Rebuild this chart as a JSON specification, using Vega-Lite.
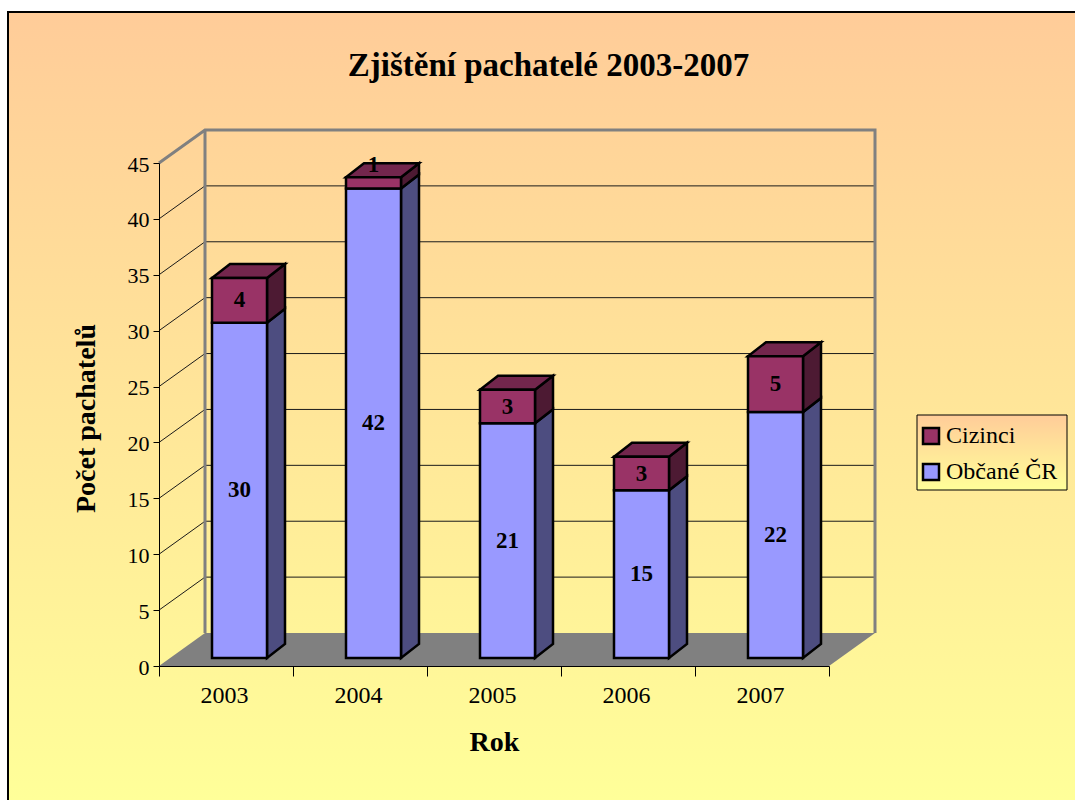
{
"$schema":"https://vega.github.io/schema/vega-lite/v6.json",
"autosize":"none",
"padding":{"left":8,"top":11,"right":0,"bottom":0},
"width":1067,"height":789,
"background":"white",
"view":{"stroke":null},
"title":{"text":"Zjištění pachatelé 2003-2007","font":"Liberation Serif","fontSize":33,"fontWeight":"bold","color":"black","anchor":"middle","frame":"group","dx":7,"offset":-75,"zindex":1},
"datasets":{"pachatele":[
{"rok":"2003","kategorie":"Občané ČR","pocet":30},{"rok":"2003","kategorie":"Cizinci","pocet":4},
{"rok":"2004","kategorie":"Občané ČR","pocet":42},{"rok":"2004","kategorie":"Cizinci","pocet":1},
{"rok":"2005","kategorie":"Občané ČR","pocet":21},{"rok":"2005","kategorie":"Cizinci","pocet":3},
{"rok":"2006","kategorie":"Občané ČR","pocet":15},{"rok":"2006","kategorie":"Cizinci","pocet":3},
{"rok":"2007","kategorie":"Občané ČR","pocet":22},{"rok":"2007","kategorie":"Cizinci","pocet":5}],
"urovne":[{"u":5},{"u":10},{"u":15},{"u":20},{"u":25},{"u":30},{"u":35},{"u":40}],
"vrch":[{"u":45}]},
"layer":[
{"data":{"name":"vrch"},
 "mark":{"type":"point","shape":"M-218,-152L849,-152L849,637L-218,637Z","size":4,"filled":true,"opacity":1,"fill":{"gradient":"linear","x1":0,"y1":0,"x2":0,"y2":1,"stops":[{"offset":0,"color":"#FFCC99"},{"offset":1,"color":"#FFFF99"}]}},
 "encoding":{"x":{"datum":"2003","type":"ordinal","axis":null},"y":{"field":"u","type":"quantitative","axis":null}}},
{"data":{"name":"vrch"},
 "mark":{"type":"point","shape":"M-218,640L-218,-151L860,-151","size":4,"filled":false,"opacity":1,"stroke":"black","strokeWidth":2},
 "encoding":{"x":{"datum":"2003","type":"ordinal","axis":null},"y":{"field":"u","type":"quantitative","axis":null}}},
{"data":{"name":"vrch"},
 "mark":{"type":"point","shape":"M691,252L841,252L841,327L691,327Z","size":4,"filled":true,"opacity":1,"stroke":"black","strokeWidth":1,"fill":{"gradient":"linear","x1":0,"y1":0,"x2":0,"y2":1,"stops":[{"offset":0,"color":"#FFCC99"},{"offset":1,"color":"#FFFF99"}]}},
 "encoding":{"x":{"datum":"2003","type":"ordinal","axis":null},"y":{"field":"u","type":"quantitative","axis":null}}},
{"data":{"values":[{"u":0}]},
 "mark":{"type":"point","shape":"M0,0L670,0L716,-33L46,-33Z","size":4,"filled":true,"fill":"#808080","opacity":1,"xOffset":-67},
 "encoding":{"x":{"datum":"2003","type":"ordinal","axis":null},"y":{"field":"u","type":"quantitative","axis":null}}},
{"data":{"name":"urovne"},
 "mark":{"type":"point","shape":"M0,0L46,-33L716,-33","size":4,"filled":false,"stroke":"#1a1a1a","strokeWidth":1,"opacity":1,"xOffset":-67},
 "encoding":{"x":{"datum":"2003","type":"ordinal","axis":null},"y":{"field":"u","type":"quantitative","axis":null}}},
{"data":{"name":"vrch"},
 "mark":{"type":"point","shape":"M0,0L46,-33L716,-33L716,470M46,-33L46,470","size":4,"filled":false,"stroke":"#808080","strokeWidth":3,"opacity":1,"xOffset":-67},
 "encoding":{"x":{"datum":"2003","type":"ordinal","axis":null},"y":{"field":"u","type":"quantitative","axis":null}}},
{"data":{"name":"pachatele"},
 "transform":[{"stack":"pocet","groupby":["rok"],"sort":[{"field":"kategorie","order":"descending"}],"as":["y0","y1"]}],
 "resolve":{"axis":{"x":"independent","y":"independent"}},
 "layer":[
 {"mark":{"type":"point","shape":{"expr":"'M0,0L18,-14L18,'+(datum.pocet*11.178-14)+'L0,'+(datum.pocet*11.178)+'Z'"},"size":4,"filled":true,"opacity":1,"stroke":"black","strokeWidth":2.5,"xOffset":41,"yOffset":-8,"fill":{"expr":"datum.kategorie==='Cizinci' ? '#4D1A33' : '#4D4D80'"}},
  "encoding":{"x":{"field":"rok","type":"ordinal","axis":null},"y":{"field":"y1","type":"quantitative","axis":null}}},
 {"transform":[{"filter":"datum.kategorie==='Cizinci'"}],
  "mark":{"type":"point","shape":"M0,0L18,-14L73,-14L55,0Z","size":4,"filled":true,"opacity":1,"fill":"#73264D","stroke":"black","strokeWidth":2.5,"xOffset":-14,"yOffset":-8},
  "encoding":{"x":{"field":"rok","type":"ordinal","axis":null},"y":{"field":"y1","type":"quantitative","axis":null}}},
 {"mark":{"type":"bar","size":55,"stroke":"black","strokeWidth":2.5,"xOffset":13.5,"yOffset":-8,"y2Offset":-8},
  "encoding":{
   "x":{"field":"rok","type":"ordinal","scale":{"domain":["2003","2004","2005","2006","2007"],"range":[151,821],"paddingInner":0,"paddingOuter":0},
     "axis":{"zindex":1,"title":"Rok","titleFont":"Liberation Serif","titleFontSize":28,"titleFontWeight":"bold","titleColor":"black","titleX":486,"titleY":62,"titleAnchor":"middle","titleAlign":"center","labelFont":"Liberation Serif","labelFontSize":24,"labelColor":"black","labelAngle":0,"labelPadding":7,"labelOffset":-2,"tickBand":"extent","tickColor":"black","tickSize":10,"domainColor":"black","offset":-134,"grid":false}},
   "y":{"field":"y1","type":"quantitative","scale":{"domain":[0,45],"range":[655,152],"nice":false,"zero":false},
     "axis":{"zindex":1,"title":"Počet pachatelů","titleFont":"Liberation Serif","titleFontSize":28,"titleFontWeight":"bold","titleColor":"black","titleAngle":-90,"titleX":-73,"titleY":407,"titleAlign":"center","titleBaseline":"middle","values":[0,5,10,15,20,25,30,35,40,45],"labelFont":"Liberation Serif","labelFontSize":22,"labelColor":"black","labelPadding":4,"labelOffset":1,"tickColor":"black","tickSize":6,"domainColor":"black","offset":-151,"grid":false}},
   "y2":{"field":"y0"},
   "color":{"field":"kategorie","type":"nominal","scale":{"domain":["Cizinci","Občané ČR"],"range":["#993366","#9999FF"]},
     "legend":{"zindex":1,"orient":"none","legendX":904,"legendY":406,"title":null,"direction":"vertical","symbolType":"square","symbolSize":256,"symbolStrokeColor":"black","symbolStrokeWidth":2.5,"symbolOpacity":1,"labelFont":"Liberation Serif","labelFontSize":24,"labelColor":"black","labelOffset":3,"padding":7,"rowPadding":10,"strokeColor":null,"fillColor":null}}}},
 {"mark":{"type":"text","font":"Liberation Serif","fontSize":23,"fontWeight":"bold","color":"black","baseline":"middle","xOffset":13.5,"yOffset":{"expr":"datum.pocet===1 ? -20 : datum.pocet*5.589-8"}},
  "encoding":{"x":{"field":"rok","type":"ordinal","axis":null},"y":{"field":"y1","type":"quantitative","axis":null},"text":{"field":"pocet","type":"quantitative"}}}
 ]}
],
"resolve":{"axis":{"x":"independent","y":"independent"}}
}
